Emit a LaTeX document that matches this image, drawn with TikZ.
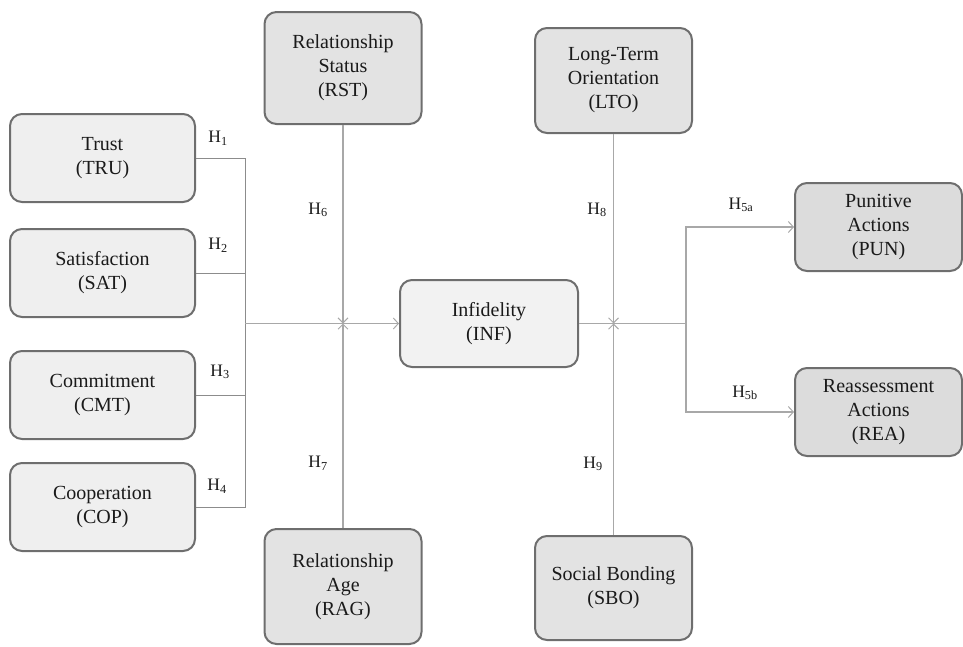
\documentclass[tikz,border=0pt]{standalone}
\usepackage{fontspec}
\setmainfont{Liberation Serif}
\usetikzlibrary{arrows.meta}
\definecolor{edgegray}{HTML}{6E6E6E}
\definecolor{linegray}{HTML}{A8A8A8}
\definecolor{bracketgray}{HTML}{8C8C8C}
\definecolor{fillA}{HTML}{EFEFEF}
\definecolor{fillB}{HTML}{F2F2F2}
\definecolor{fillC}{HTML}{E3E3E3}
\definecolor{fillD}{HTML}{DCDCDC}
\definecolor{inkcol}{HTML}{1A1A1A}
\tikzset{
  box/.style={draw=edgegray, line width=2pt, rounded corners=12pt, align=center,
    text=inkcol, font=\fontsize{20}{24}\selectfont, inner sep=0pt},
  predictor/.style={box, fill=fillA, minimum width=185pt, minimum height=88pt},
  centre/.style={box, fill=fillB, minimum width=178pt, minimum height=87pt},
  moderator/.style={box, fill=fillC, minimum width=157pt},
  outcome/.style={box, fill=fillD, minimum width=167pt, minimum height=88pt},
  link/.style={draw=linegray, line width=1.2pt},
  bracket/.style={draw=bracketgray, line width=1pt},
  tip/.style={-{Straight Barb[length=5pt,width=11pt,line width=1pt]}},
  modtip/.style={link, -{Straight Barb[length=5pt,width=10pt,line width=1pt]}},
  hyp/.style={text=inkcol, font=\fontsize{17.5}{20}\selectfont, inner sep=0pt}
}
\begin{document}
\begin{tikzpicture}[x=1pt, y=-1pt]
  \useasboundingbox (0,0) rectangle (963,646);

  % predictors on the left
  \node[predictor] (TRU) at (102.5,158) {Trust\\(TRU)};
  \node[predictor] (SAT) at (102.5,273) {Satisfaction\\(SAT)};
  \node[predictor] (CMT) at (102.5,395) {Commitment\\(CMT)};
  \node[predictor] (COP) at (102.5,507) {Cooperation\\(COP)};

  % central construct
  \node[centre] (INF) at (489,323.5) {Infidelity\\(INF)};

  % moderators
  \node[moderator, minimum height=112pt] (RST) at (343,68) {Relationship\\Status\\(RST)};
  \node[moderator, minimum height=115pt] (RAG) at (343,586.5) {Relationship\\Age\\(RAG)};
  \node[moderator, minimum height=105pt] (LTO) at (613.5,80.5) {Long-Term\\Orientation\\(LTO)};
  \node[moderator, minimum height=104pt] (SBO) at (613.5,588) {Social Bonding\\(SBO)};

  % outcomes
  \node[outcome] (PUN) at (878.5,227) {Punitive\\Actions\\(PUN)};
  \node[outcome] (REA) at (878.5,412) {Reassessment\\Actions\\(REA)};

  % junction points
  \coordinate (jL) at (245,323.5);
  \coordinate (jR) at (686,323.5);
  \coordinate (m1) at (RST.south |- INF.west);
  \coordinate (m2) at (LTO.south |- INF.east);

  % predictor bracket
  \draw[bracket] (TRU.east) -- (TRU.east -| jL) -- (COP.east -| jL) -- (COP.east);
  \draw[bracket] (SAT.east) -- (SAT.east -| jL);
  \draw[bracket] (CMT.east) -- (CMT.east -| jL);
  \draw[link, tip] (jL) -- (INF.west);

  % outcome branches
  \draw[link] (INF.east) -- (jR);
  \draw[link, tip] (jR) |- (PUN.west);
  \draw[link, tip] (jR) |- (REA.west);

  % moderating paths
  \draw[modtip] (RST.south) -- (m1);
  \draw[modtip] (RAG.north) -- (m1);
  \draw[modtip] (LTO.south) -- (m2);
  \draw[modtip] (SBO.north) -- (m2);

  % hypothesis labels
  \node[hyp] (h1) at (218,138) {H\textsubscript{1}};
  \node[hyp] (h2) at (218,245) {H\textsubscript{2}};
  \node[hyp] (h3) at (220,372) {H\textsubscript{3}};
  \node[hyp] (h4) at (217,486) {H\textsubscript{4}};
  \node[hyp] (h5a) at (741,205) {H\textsubscript{5a}};
  \node[hyp] (h5b) at (745,393) {H\textsubscript{5b}};
  \node[hyp] (h6) at (318,210) {H\textsubscript{6}};
  \node[hyp] (h7) at (318,463) {H\textsubscript{7}};
  \node[hyp] (h8) at (597,210) {H\textsubscript{8}};
  \node[hyp] (h9) at (593,464) {H\textsubscript{9}};
\end{tikzpicture}
\end{document}
